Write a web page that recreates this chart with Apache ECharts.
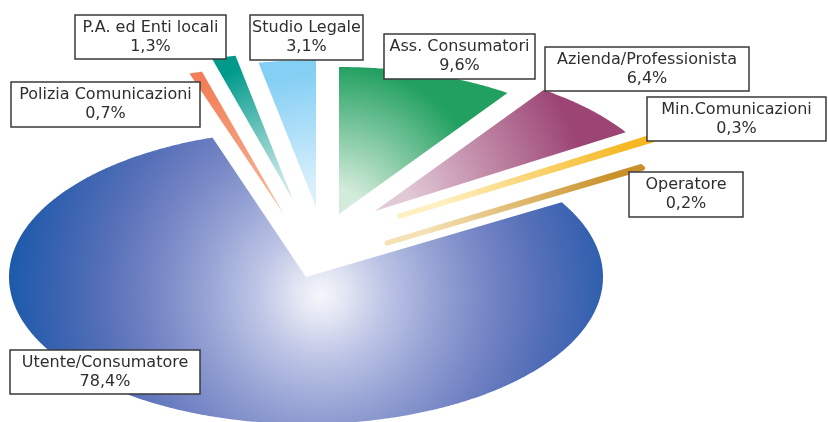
<!DOCTYPE html>
<html>
<head>
<meta charset="utf-8">
<script src="https://cdn.jsdelivr.net/npm/echarts@6/dist/echarts.min.js"></script>
<style>
  html, body { margin: 0; padding: 0; background: #ffffff; }
  #chart { width: 828px; height: 422px; }
</style>
</head>
<body>
<div id="chart"></div>
<script>
// Segnalazioni per tipo di segnalante (quote percentuali)
const categories = [
  'Polizia Comunicazioni',
  'P.A. ed Enti locali',
  'Studio Legale',
  'Ass. Consumatori',
  'Azienda/Professionista',
  'Min.Comunicazioni',
  'Operatore',
  'Utente/Consumatore'
];
const shares = [0.7, 1.3, 3.1, 9.6, 6.4, 0.3, 0.2, 78.4];

// Colours: light tone at the slice apex, full tone at the rim
const innerColors = ['#f8b094', '#c6e5e6', '#d8effc', '#d3ebda', '#e2c9d6', '#fff0c4', '#f5e1b4'];
const outerColors = ['#f27f5a', '#009a8a', '#84cff4', '#21a060', '#9c4575', '#f5b822', '#c8902a'];
// Large slice: light spot in the middle fading to deep blue at the rim
const mainStops = [
  [0, '#f6f7fc'], [0.08, '#e2e5f3'], [0.2, '#bfc6e6'], [0.38, '#94a1d3'],
  [0.55, '#7383c4'], [0.7, '#5670b8'], [0.85, '#3a63b1'], [1, '#1c5aab']
];

// Pie geometry (tilted disc drawn as an ellipse)
const CENTER = [306, 277];
const RX = 297;
const RY = 147;
const START_DEG = -18.36;          // clockwise from 12 o'clock
// Pull-out of each slice from the centre, in pixels
const explodeOffsets = [[-23, -64], [-13, -77], [10, -70], [33, -63], [69, -66], [94, -61], [81, -34], [0, 0]];
// Label boxes: left, top, width, height
const labelBoxes = [
  [11, 82, 189, 45],
  [75, 15, 151, 44],
  [250, 15, 113, 45],
  [384, 34, 151, 45],
  [545, 47, 204, 44],
  [647, 97, 179, 44],
  [629, 172, 114, 45],
  [10, 350, 190, 44]
];

const total = shares.reduce((a, b) => a + b, 0);
const sliceAngles = [];
(function () {
  let acc = START_DEG;
  shares.forEach(v => {
    const span = v / total * 360;
    sliceAngles.push([acc, acc + span]);
    acc += span;
  });
})();
const rad = d => d * Math.PI / 180;
const fmtPct = v => v.toFixed(1).replace('.', ',') + '%';

// Point on the ellipse rim at a clockwise angle from 12 o'clock
function rimPoint(cx, cy, deg) {
  return [cx + RX * Math.sin(rad(deg)), cy - RY * Math.cos(rad(deg))];
}

function sliceFill(i, cx, cy, midDeg) {
  if (i === shares.length - 1) {
    return {
      type: 'radial', global: true, x: cx + 15, y: cy + 18, r: 312,
      colorStops: mainStops.map(s => ({ offset: s[0], color: s[1] }))
    };
  }
  const rim = rimPoint(0, 0, midDeg);
  const reach = Math.hypot(rim[0], rim[1]);
  return {
    type: 'radial', global: true, x: cx, y: cy, r: reach,
    colorStops: [
      { offset: 0, color: innerColors[i] },
      { offset: 0.15, color: innerColors[i] },
      { offset: 0.9, color: outerColors[i] },
      { offset: 1, color: outerColors[i] }
    ]
  };
}

function renderSlice(params, api) {
  const i = params.dataIndex;
  const a = sliceAngles[i];
  const off = explodeOffsets[i];
  const cx = CENTER[0] + off[0];
  const cy = CENTER[1] + off[1];
  const pts = [[cx, cy]];
  const steps = Math.max(2, Math.ceil((a[1] - a[0]) / 0.5));
  for (let k = 0; k <= steps; k++) {
    pts.push(rimPoint(cx, cy, a[0] + (a[1] - a[0]) * k / steps));
  }
  const fill = sliceFill(i, cx, cy, (a[0] + a[1]) / 2);
  const thin = api.value(1) < 0.5;
  return {
    type: 'polygon',
    shape: { points: pts },
    style: thin
      ? { fill: fill, stroke: fill, lineWidth: 5, lineJoin: 'round' }
      : { fill: fill }
  };
}

function renderLabel(params, api) {
  const i = params.dataIndex;
  const b = labelBoxes[i];
  return {
    type: 'group',
    children: [
      {
        type: 'rect',
        shape: { x: b[0], y: b[1], width: b[2], height: b[3] },
        style: { fill: '#ffffff', stroke: '#3a3a3a', lineWidth: 1.5 }
      },
      {
        type: 'text',
        x: b[0] + b[2] / 2,
        y: b[1] + b[3] / 2,
        style: {
          text: categories[i] + '\n' + fmtPct(api.value(1)),
          font: '16px "DejaVu Sans"',
          fill: '#2e2e2e',
          align: 'center',
          verticalAlign: 'middle',
          lineHeight: 19
        }
      }
    ]
  };
}

const seriesData = shares.map((v, i) => [i, v]);

const chart = echarts.init(document.getElementById('chart'), null, { renderer: 'canvas' });
chart.setOption({
  backgroundColor: '#ffffff',
  animation: false,
  series: [
    { type: 'custom', coordinateSystem: 'none', renderItem: renderSlice, data: seriesData, z: 1 },
    { type: 'custom', coordinateSystem: 'none', renderItem: renderLabel, data: seriesData, z: 2 }
  ]
});
</script>
</body>
</html>
